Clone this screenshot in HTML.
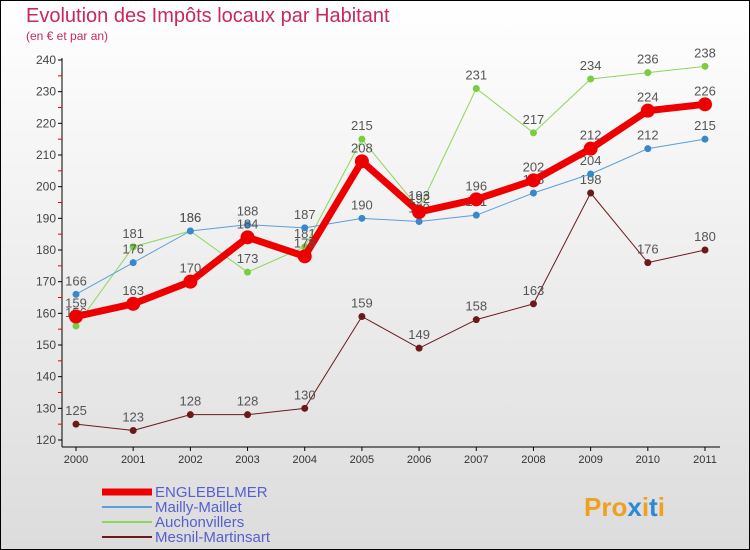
<!DOCTYPE html>
<html><head><meta charset="utf-8"><style>
body{margin:0;background:#fff}
svg{display:block;font-family:"Liberation Sans",sans-serif}
</style></head><body>
<svg width="750" height="550" viewBox="0 0 750 550">
<defs><linearGradient id="bg" x1="0" y1="0" x2="0" y2="1"><stop offset="0" stop-color="#ffffff"/><stop offset="1" stop-color="#dcdcdc"/></linearGradient></defs>
<rect x="0.5" y="0.5" width="749" height="549" fill="url(#bg)" stroke="#000"/>
<text x="26" y="22" font-size="20" fill="#c8285a">Evolution des Impôts locaux par Habitant</text>
<text x="26" y="40" font-size="12" fill="#c8285a">(en € et par an)</text>
<g id="axes"></g>
<g id="series"></g>
<g id="legend"></g>
<text x="584" y="516" font-size="26" font-weight="bold"><tspan fill="#f0a020">Pro</tspan><tspan fill="#2a8ad8">x</tspan><tspan fill="#f0a020">i</tspan><tspan fill="#2a8ad8">t</tspan><tspan fill="#f0a020">i</tspan></text>
</svg>
<script>
const years=[2000,2001,2002,2003,2004,2005,2006,2007,2008,2009,2010,2011];
const yTicks=[120,130,140,150,160,170,180,190,200,210,220,230,240];
const englebelmer=[159,163,170,184,178,208,192,196,202,212,224,226];
const maillyMaillet=[166,176,186,188,187,190,189,191,198,204,212,215];
const auchonvillers=[156,181,186,173,181,215,193,231,217,234,236,238];
const mesnilMartinsart=[125,123,128,128,130,159,149,158,163,198,176,180];
const NS="http://www.w3.org/2000/svg";
const X=i=>76+i*(705-76)/11;
const Y=v=>440-(v-120)*(380/120);
function mk(t,a,p){const e=document.createElementNS(NS,t);for(const k in a)e.setAttribute(k,a[k]);p.appendChild(e);return e;}
const ax=document.getElementById('axes');
const yl=mk('line',{x1:62,y1:58,x2:62,y2:447,stroke:'#000'},ax);


const xl=mk('line',{x1:62,y1:447,x2:720,y2:447,stroke:'#000'},ax);


yTicks.forEach(v=>{
  mk('line',{x1:58,y1:Y(v),x2:62,y2:Y(v),stroke:'#000'},ax);
  const t=mk('text',{x:56,y:Y(v)+4,'font-size':12,'text-anchor':'end',fill:'#444'},ax);t.textContent=v;
  
  
  if(v<240) mk('line',{x1:58,y1:Y(v+5),x2:62,y2:Y(v+5),stroke:'#e00'},ax);
});
years.forEach((yr,i)=>{
  mk('line',{x1:X(i),y1:447,x2:X(i),y2:451,stroke:'#000'},ax);
  const t=mk('text',{x:X(i),y:463,'font-size':11,'text-anchor':'middle',fill:'#333'},ax);t.textContent=yr;
  
  
});
const sg=document.getElementById('series');
function series(vals,color,w,r,name,dot){
  const g=mk('g',{},sg);
  
  
  mk('polyline',{points:vals.map((v,i)=>X(i)+','+Y(v)).join(' '),fill:'none',stroke:color,'stroke-width':w,'stroke-linejoin':'round'},g);
  vals.forEach((v,i)=>{
    const c=mk('circle',{cx:X(i),cy:Y(v),r:r,fill:dot},g);
    
    
    const t=mk('text',{x:X(i),y:Y(v)-9,'font-size':13,'text-anchor':'middle',fill:'#555'},g);t.textContent=v;
    
    
  });
}
series(mesnilMartinsart,'#6b1a1a',1,3.5,'mesnil-martinsart-series','#6b1a1a');
series(auchonvillers,'#8ad85a',1,3.5,'auchonvillers-series','#7acc40');
series(maillyMaillet,'#5a9fd8',1,3.5,'mailly-maillet-series','#3a88cc');
series(englebelmer,'#ee0000',7,7,'englebelmer-series','#ee0000');
const lg=document.getElementById('legend');
const items=[['ENGLEBELMER','#ee0000',7],['Mailly-Maillet','#5a9fd8',2],['Auchonvillers','#8ad85a',2],['Mesnil-Martinsart','#6b1a1a',2]];
items.forEach((it,i)=>{
  const y=492+i*15;
  const g=mk('g',{},lg);
  
  
  mk('line',{x1:102,y1:y,x2:152,y2:y,stroke:it[1],'stroke-width':it[2]},g);
  const t=mk('text',{x:155,y:y+5,'font-size':15,fill:'#5560d0'},g);t.textContent=it[0];
});
</script>
</body></html>
